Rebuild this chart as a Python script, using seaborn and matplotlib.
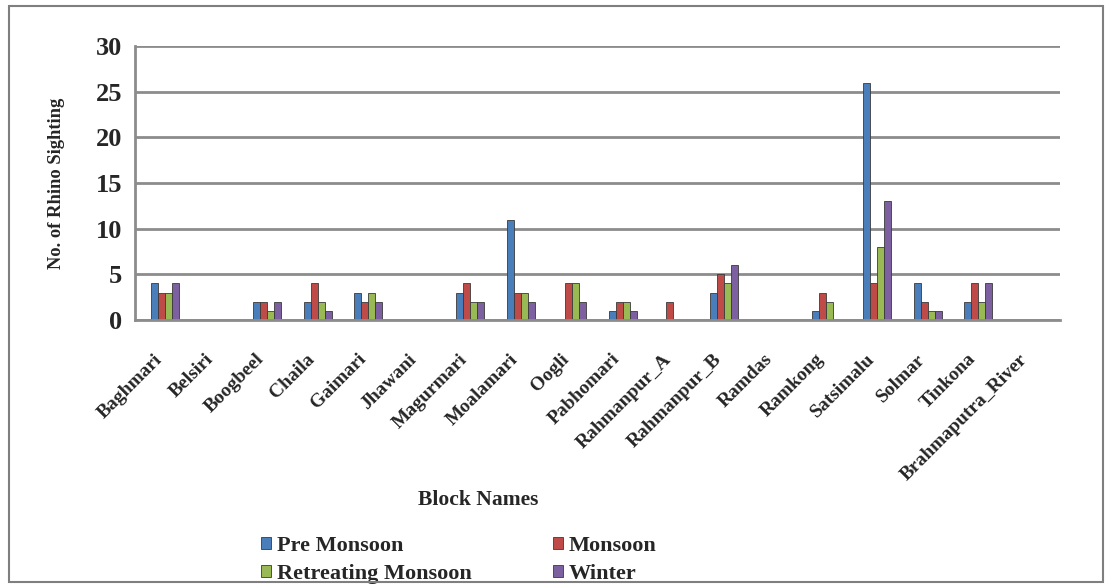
import pandas as pd
import matplotlib.pyplot as plt
import matplotlib.transforms as mtransforms
import seaborn as sns
from matplotlib.patches import Rectangle

# data
blocks = ['Baghmari', 'Belsiri', 'Boogbeel', 'Chaila', 'Gaimari', 'Jhawani',
          'Magurmari', 'Moalamari', 'Oogli', 'Pabhomari', 'Rahmanpur_A',
          'Rahmanpur_B', 'Ramdas', 'Ramkong', 'Satsimalu', 'Solmar',
          'Tinkona', 'Brahmaputra_River']
pre_monsoon = [4, 0, 2, 2, 3, 0, 3, 11, 0, 1, 0, 3, 0, 1, 26, 4, 2, 0]
monsoon = [3, 0, 2, 4, 2, 0, 4, 3, 4, 2, 2, 5, 0, 3, 4, 2, 4, 0]
retreating = [3, 0, 1, 2, 3, 0, 2, 3, 4, 2, 0, 4, 0, 2, 8, 1, 2, 0]
winter = [4, 0, 2, 1, 2, 0, 2, 2, 2, 1, 0, 6, 0, 0, 13, 1, 4, 0]
seasons = ['Pre Monsoon', 'Monsoon', 'Retreating Monsoon', 'Winter']
colors = ['#4A7EBB', '#BE4B48', '#98B954', '#7D60A0']

rows = []
for season, vals in zip(seasons, [pre_monsoon, monsoon, retreating, winter]):
    for b, v in zip(blocks, vals):
        rows.append({'Block': b, 'Season': season, 'Count': v})
df = pd.DataFrame(rows)

sns.set_style('white')
plt.rcParams['font.family'] = ['Liberation Serif', 'DejaVu Serif']
plt.rcParams['font.weight'] = 'bold'

fig = plt.figure(figsize=(11.12, 5.85), dpi=100)
ax = fig.add_axes([0.121, 0.453, 0.832, 0.468])

sns.barplot(data=df, x='Block', y='Count', hue='Season', order=blocks,
            hue_order=seasons, palette=colors, width=0.55, saturation=1,
            ax=ax, edgecolor='#3a3a3a', linewidth=0.6, legend=True)

ax.set_ylim(0, 30)
ax.set_yticks(range(0, 31, 5))
ax.set_xlim(-0.6, len(blocks) - 0.4)
ax.yaxis.grid(True, color='#8c8c8c', linewidth=2)
ax.set_axisbelow(True)
for s in ['top', 'right']:
    ax.spines[s].set_visible(False)
ax.spines['left'].set_color('#8c8c8c')
ax.spines['left'].set_linewidth(2)
ax.spines['bottom'].set_color('#8c8c8c')
ax.spines['bottom'].set_linewidth(2)
ax.tick_params(axis='y', labelsize=19, length=5, color='#8c8c8c', pad=4)
ax.tick_params(axis='x', labelsize=14, length=0, pad=22)
for lbl in ax.get_yticklabels():
    lbl.set_fontweight('bold')
shift = mtransforms.ScaledTranslation(-8 / 72, 0, fig.dpi_scale_trans)
for lbl in ax.get_xticklabels():
    lbl.set_rotation(45)
    lbl.set_ha('right')
    lbl.set_rotation_mode('anchor')
    lbl.set_fontweight('bold')
    lbl.set_transform(lbl.get_transform() + shift)

ax.set_ylabel('No. of Rhino Sighting', fontsize=13.3, fontweight='bold', labelpad=22)
ax.set_xlabel('Block Names', fontsize=15.5, fontweight='bold', labelpad=0)
ax.xaxis.set_label_coords(0.371, -0.62)

# legend laid out row by row: Pre Monsoon, Monsoon / Retreating, Winter
handles, labels = ax.get_legend_handles_labels()
order = [0, 2, 1, 3]
ax.legend([handles[i] for i in order], [labels[i] for i in order],
          loc='upper left', bbox_to_anchor=(0.115, -0.715),
          ncol=2, frameon=False, handlelength=0.45,
          handleheight=0.45, handletextpad=0.25, columnspacing=3.7,
          labelspacing=0.35, prop={'weight': 'bold', 'size': 16})

# outer frame of the chart
fig.patches.append(Rectangle((0.008, 0.005), 0.984, 0.985, transform=fig.transFigure,
                             fill=False, edgecolor='#7f7f7f', linewidth=1.5))

fig.savefig('out.png', dpi=100, facecolor='white')
